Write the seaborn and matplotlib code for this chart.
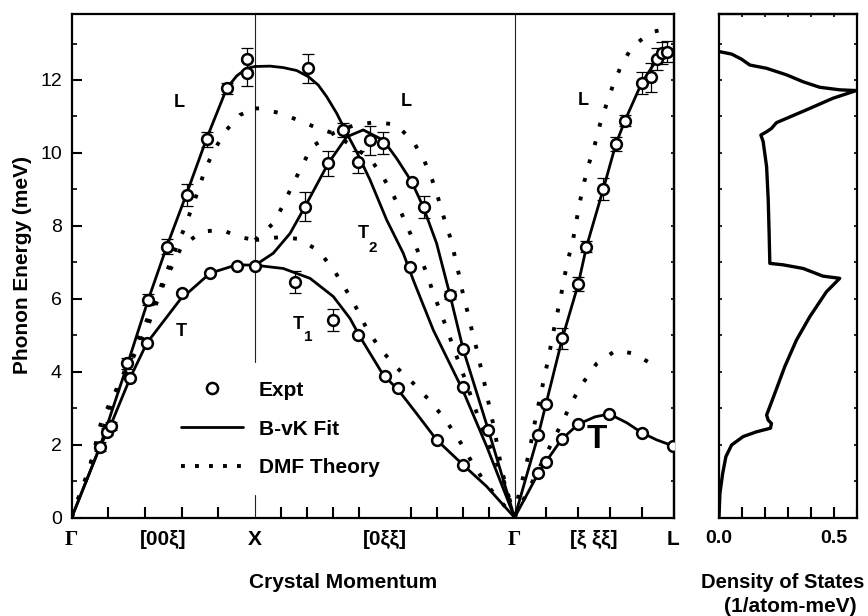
import numpy as np
import pandas as pd
import matplotlib
matplotlib.use("Agg")
import matplotlib.pyplot as plt
from matplotlib.lines import Line2D
import seaborn as sns

# ---------------- path geometry (units of 2*pi/a) ----------------
G1_POS = 0.0
X_POS = 1.0
G2_POS = 1.0 + np.sqrt(2.0)
L_POS = G2_POS + np.sqrt(3.0) / 2.0

# ---------------- B-vK fit (solid) ----------------
bvk_L_GX_x = [0, 0.154, 0.300, 0.417, 0.518, 0.627, 0.736, 0.845, 0.899, 0.954, 1.0]
bvk_L_GX_y = [0, 1.94, 4.14, 5.97, 7.43, 8.89, 10.40, 11.77, 12.11, 12.32, 12.37]
bvk_T_GX_x = [0, 0.154, 0.209, 0.318, 0.409, 0.590, 0.754, 0.899, 1.0]
bvk_T_GX_y = [0, 1.94, 2.49, 3.82, 4.78, 5.97, 6.70, 6.93, 6.92]

bvk_A_XG_x = [1.0, 1.081, 1.153, 1.226, 1.290, 1.344, 1.390, 1.444, 1.499, 1.553, 1.626, 1.717, 1.807, 1.862, 1.971, 2.131, 2.262, 2.414]
bvk_A_XG_y = [12.37, 12.38, 12.34, 12.26, 12.09, 11.86, 11.54, 11.09, 10.54, 10.03, 9.26, 8.16, 7.25, 6.51, 5.14, 3.50, 1.95, 0]
bvk_B_XG_x = [1.0, 1.099, 1.190, 1.271, 1.398, 1.499, 1.589, 1.698, 1.771, 1.853, 1.916, 1.989, 2.062, 2.134, 2.271, 2.414]
bvk_B_XG_y = [6.92, 7.25, 7.79, 8.52, 9.71, 10.44, 10.63, 10.35, 9.85, 9.21, 8.52, 7.52, 6.10, 4.61, 2.40, 0]
bvk_T1_XG_x = [1.0, 1.153, 1.299, 1.426, 1.517, 1.571, 1.698, 1.780, 1.880, 1.989, 2.134, 2.262, 2.414]
bvk_T1_XG_y = [6.92, 6.83, 6.56, 6.06, 5.46, 4.96, 3.91, 3.50, 2.85, 2.13, 1.44, 0.85, 0]

bvk_L_GL_x = [2.414, 2.543, 2.585, 2.674, 2.761, 2.806, 2.897, 2.966, 3.015, 3.106, 3.188, 3.242, 3.280]
bvk_L_GL_y = [0, 2.26, 3.11, 4.91, 6.40, 7.43, 9.00, 10.24, 10.88, 11.91, 12.55, 12.78, 12.83]
bvk_T_GL_x = [2.414, 2.543, 2.585, 2.670, 2.761, 2.852, 2.930, 3.025, 3.106, 3.188, 3.280]
bvk_T_GL_y = [0, 1.21, 1.53, 2.14, 2.56, 2.76, 2.84, 2.60, 2.33, 2.13, 1.96]

# ---------------- DMF theory (dotted) ----------------
dmf_L_GX_x = [0, 0.036, 0.082, 0.109, 0.136, 0.163, 0.263, 0.354, 0.449, 0.572, 0.614, 0.654, 0.690, 0.726, 0.772, 0.835, 0.917, 1.0]
dmf_L_GX_y = [0, 0.53, 1.08, 1.60, 2.13, 2.66, 3.72, 4.78, 5.86, 7.43, 7.93, 8.48, 8.98, 9.53, 10.03, 10.58, 11.04, 11.22]
dmf_T_GX_x = [0, 0.227, 0.417, 0.499, 0.545, 0.599, 0.708, 0.817, 0.917, 1.0]
dmf_T_GX_y = [0, 3.22, 5.28, 6.38, 6.88, 7.43, 7.84, 7.89, 7.69, 7.61]

dmf_A_XG_x = [1.0, 1.026, 1.135, 1.244, 1.344, 1.426, 1.626, 1.698, 1.757, 1.804, 1.849, 1.893, 1.935, 1.971, 2.011, 2.049, 2.085, 2.125, 2.198, 2.235, 2.325, 2.370, 2.414]
dmf_A_XG_y = [11.22, 11.22, 11.09, 10.88, 10.67, 10.54, 9.85, 9.33, 8.80, 8.27, 7.75, 7.23, 6.70, 6.15, 5.63, 5.12, 4.59, 4.06, 3.01, 2.49, 1.39, 0.80, 0]
dmf_B_XG_x = [1.0, 1.099, 1.153, 1.199, 1.253, 1.308, 1.426, 1.544, 1.653, 1.767, 1.862, 1.920, 1.965, 1.998, 2.029, 2.062, 2.089, 2.112, 2.134, 2.161, 2.185, 2.211, 2.235, 2.258, 2.280, 2.303, 2.322, 2.343, 2.367, 2.414]
dmf_B_XG_y = [7.61, 8.07, 8.57, 9.07, 9.62, 10.17, 10.54, 10.77, 10.84, 10.78, 10.31, 9.81, 9.26, 8.75, 8.22, 7.70, 7.15, 6.63, 6.10, 5.57, 5.05, 4.55, 4.00, 3.50, 2.95, 2.45, 1.90, 1.35, 0.84, 0]
dmf_T1_XG_x = [1.0, 1.135, 1.240, 1.344, 1.426, 1.490, 1.549, 1.604, 1.671, 1.757, 1.862, 1.962, 2.044, 2.113, 2.174, 2.243, 2.316, 2.414]
dmf_T1_XG_y = [7.61, 7.69, 7.64, 7.32, 6.81, 6.29, 5.77, 5.22, 4.70, 4.18, 3.68, 3.15, 2.63, 2.11, 1.58, 1.03, 0.57, 0]

dmf_L_GL_x = [2.414, 2.434, 2.470, 2.494, 2.534, 2.558, 2.579, 2.601, 2.621, 2.643, 2.665, 2.684, 2.706, 2.733, 2.752, 2.770, 2.794, 2.821, 2.852, 2.879, 2.912, 2.948, 2.992, 3.052, 3.155, 3.261]
dmf_L_GL_y = [0, 0.57, 1.30, 1.80, 2.86, 3.41, 3.91, 4.43, 4.98, 5.51, 6.03, 6.56, 7.08, 7.63, 8.16, 8.66, 9.21, 9.73, 10.24, 10.77, 11.29, 11.82, 12.36, 12.89, 13.31, 13.42]
dmf_T_GL_x = [2.414, 2.625, 2.676, 2.725, 2.785, 2.861, 2.968, 3.068, 3.174]
dmf_T_GL_y = [0, 2.13, 2.63, 3.16, 3.68, 4.22, 4.59, 4.49, 4.17]

# ---------------- experiment ----------------
expt_x = [0.154, 0.194, 0.214, 0.300, 0.417, 0.518, 0.627, 0.736, 0.845, 0.954, 0.954,
          0.318, 0.409, 0.599, 0.754, 0.902, 1.0,
          1.290, 1.562, 1.844, 2.131, 1.480,
          1.271, 1.398, 1.626, 1.695, 1.853, 1.920, 2.062, 2.134, 2.271,
          1.217, 1.426, 1.562, 1.707, 1.780, 1.989, 2.134,
          2.543, 2.585, 2.674, 2.761, 2.806, 2.897, 2.966, 3.015, 3.106, 3.155, 3.188, 3.220, 3.246,
          2.543, 2.585, 2.670, 2.761, 2.930, 3.106, 3.275]
expt_y = [1.94, 2.35, 2.51, 4.23, 5.97, 7.43, 8.85, 10.37, 11.77, 12.18, 12.57,
          3.82, 4.78, 6.15, 6.70, 6.91, 6.91,
          12.32, 9.76, 6.88, 3.57, 10.63,
          8.52, 9.71, 10.35, 10.28, 9.21, 8.52, 6.10, 4.61, 2.40,
          6.47, 5.42, 5.01, 3.88, 3.54, 2.13, 1.44,
          2.26, 3.11, 4.91, 6.40, 7.43, 9.00, 10.24, 10.88, 11.91, 12.07, 12.57, 12.73, 12.78,
          1.21, 1.53, 2.14, 2.56, 2.84, 2.33, 1.96]
expt_err = [0.12, 0.10, 0.10, 0.15, 0.15, 0.20, 0.30, 0.20, 0.15, 0.35, 0.30,
            0, 0, 0, 0, 0, 0,
            0.40, 0.30, 0, 0, 0.20,
            0.40, 0.35, 0.40, 0.30, 0, 0.30, 0.10, 0, 0,
            0.30, 0.30, 0, 0, 0, 0, 0,
            0, 0, 0.30, 0.20, 0.15, 0.30, 0.20, 0.15, 0.30, 0.40, 0.30, 0.30, 0.30,
            0, 0, 0, 0, 0, 0, 0]

# ---------------- density of states ----------------
dos_val = [0, 0.004, 0.016, 0.030, 0.055, 0.105, 0.163, 0.224, 0.228, 0.214, 0.207, 0.243, 0.286,
           0.337, 0.395, 0.467, 0.525, 0.452, 0.366, 0.279, 0.221, 0.218, 0.214, 0.207, 0.192,
           0.182, 0.207, 0.228, 0.250, 0.380, 0.496, 0.597, 0.525, 0.438, 0.366, 0.294, 0.207,
           0.134, 0.098, 0.055, 0]
dos_e = [0, 0.66, 1.21, 1.67, 1.99, 2.22, 2.35, 2.45, 2.58, 2.67, 2.81, 3.41, 4.14,
         4.87, 5.51, 6.19, 6.56, 6.62, 6.83, 6.93, 6.97, 7.79, 8.71, 9.62, 10.31,
         10.49, 10.58, 10.67, 10.83, 11.18, 11.50, 11.71, 11.73, 11.80, 11.95, 12.14, 12.32,
         12.41, 12.57, 12.71, 12.78]

# ---------------- labels ----------------
sym_pos = [G1_POS, 0.5, X_POS, X_POS + np.sqrt(2) / 2, G2_POS, G2_POS + np.sqrt(3) / 4, L_POS]
sym_lab = ["Γ", "[00ξ]", "X", "[0ξξ]", "Γ", "[ξ ξξ]", "L"]
ticks_GX = [0.2, 0.4, 0.6, 0.8]
ticks_XG = [X_POS + k * np.sqrt(2) / 10 for k in range(1, 10)]
ticks_GL = [G2_POS + k * np.sqrt(3) / 10 for k in range(1, 6)]
ytick_vals = [0, 2, 4, 6, 8, 10, 12]

# ---------------- style ----------------
sns.set_theme(style="ticks")
plt.rcParams['font.family'] = ['Liberation Sans', 'DejaVu Sans']
plt.rcParams['axes.linewidth'] = 1.6
plt.rcParams['axes.edgecolor'] = 'black'
plt.rcParams['xtick.color'] = 'black'
plt.rcParams['ytick.color'] = 'black'
plt.rcParams['text.color'] = 'black'

fig = plt.figure(figsize=(8.68, 6.16), dpi=100)
ax = fig.add_axes([71.7 / 868, 1 - 517.5 / 616, (673.5 - 71.7) / 868, (517.5 - 14) / 616])
axd = fig.add_axes([719 / 868, 1 - 517.5 / 616, (857 - 719) / 868, (517.5 - 14) / 616])

YMAX = (517.5 - 14) / 36.46

SOLID = dict(color='black', lw=2.0, solid_capstyle='round')
DOT = dict(color='black', lw=2.8, linestyle=(0, (1.0, 3.9)))


def draw(axis, xs, ys, style):
    df = pd.DataFrame({'q': xs, 'E': ys})
    sns.lineplot(data=df, x='q', y='E', sort=False, estimator=None, ax=axis, zorder=3, **style)


for xs, ys in [(bvk_L_GX_x, bvk_L_GX_y), (bvk_T_GX_x, bvk_T_GX_y),
               (bvk_A_XG_x, bvk_A_XG_y), (bvk_B_XG_x, bvk_B_XG_y), (bvk_T1_XG_x, bvk_T1_XG_y),
               (bvk_L_GL_x, bvk_L_GL_y), (bvk_T_GL_x, bvk_T_GL_y)]:
    draw(ax, xs, ys, SOLID)

for xs, ys in [(dmf_L_GX_x, dmf_L_GX_y), (dmf_T_GX_x, dmf_T_GX_y),
               (dmf_A_XG_x, dmf_A_XG_y), (dmf_B_XG_x, dmf_B_XG_y), (dmf_T1_XG_x, dmf_T1_XG_y),
               (dmf_L_GL_x, dmf_L_GL_y), (dmf_T_GL_x, dmf_T_GL_y)]:
    draw(ax, xs, ys, DOT)

ex = np.array(expt_x); ey = np.array(expt_y); ee = np.array(expt_err)
m = ee > 0
ax.errorbar(ex[m], ey[m], yerr=ee[m], fmt='none', ecolor='black', elinewidth=0.9,
            capsize=4.3, capthick=0.9, zorder=4)
sns.scatterplot(x=ex, y=ey, ax=ax, marker='o', s=60, color='white', edgecolor='black',
                linewidth=1.8, zorder=5, legend=False)

# symmetry-point separators (X line interrupted by the legend block)
ax.plot([X_POS, X_POS], [0, 0.62], color='#222222', lw=0.8, zorder=1)
ax.plot([X_POS, X_POS], [4.27, 20], color='#222222', lw=0.8, zorder=1)
ax.axvline(G2_POS, color='#222222', lw=0.8, zorder=1)

ax.set_xlim(G1_POS, L_POS)
ax.set_ylim(0, YMAX)
ax.set_xlabel(""); ax.set_ylabel("")

ax.set_xticks(sym_pos)
ax.set_xticklabels(sym_lab, fontsize=15, fontweight='bold')
for t in ax.get_xticklabels():
    if t.get_text() == "Γ":
        t.set_fontfamily(['Liberation Serif', 'DejaVu Serif'])
ax.set_xticks(ticks_GX + ticks_XG + ticks_GL, minor=True)
ax.tick_params(axis='x', which='major', length=0, pad=9)
ax.tick_params(axis='x', which='minor', direction='in', length=8, width=1.5)
ax.set_yticks(ytick_vals)
ax.set_yticklabels([str(v) for v in ytick_vals], fontsize=14)
ax.set_yticks([1, 3, 5, 7, 9, 11, 13], minor=True)
ax.tick_params(axis='y', which='major', direction='in', length=7, width=1.5, pad=7)
ax.tick_params(axis='y', which='minor', direction='in', length=3.5, width=1.2)
sec = ax.secondary_yaxis('right')
sec.set_yticks(list(range(0, 14)))
sec.set_yticklabels([])
sec.tick_params(direction='in', length=2.5, width=1.2)

# branch labels
lab = dict(fontsize=13, fontweight='bold', ha='center', va='center')
ax.text(0.585, 11.37, "L", **lab)
ax.text(1.822, 11.42, "L", **lab)
ax.text(2.786, 11.45, "L", **lab)
ax.text(0.596, 5.09, "T", **lab)
ax.text(1.233, 5.28, "T", **lab)
ax.text(1.290, 4.95, "1", fontsize=11, fontweight='bold', ha='center', va='center')
ax.text(1.588, 7.78, "T", **lab)
ax.text(1.640, 7.40, "2", fontsize=11, fontweight='bold', ha='center', va='center')
ax.text(2.862, 2.13, "T", fontsize=24, fontweight='bold', ha='center', va='center')

handles = [Line2D([], [], marker='o', ls='none', mfc='white', mec='black', ms=8, mew=1.8),
           Line2D([], [], color='black', lw=2.0),
           Line2D([], [], color='black', lw=2.8, linestyle=(0, (1.0, 2.6)))]
leg = ax.legend(handles, ["Expt", "B-vK Fit", "DMF Theory"], loc='upper left',
                bbox_to_anchor=((162 - 71.7) / 601.8, (517.5 - 362) / 503.5),
                frameon=False, borderpad=0.9, handlelength=3.0, handletextpad=0.75,
                labelspacing=0.95, borderaxespad=0,
                prop={'family': ['Liberation Sans'], 'weight': 'bold', 'size': 15})
leg.set_zorder(6)

fig.text(343 / 868, 1 - 582 / 616, "Crystal Momentum", fontsize=15, fontweight='bold',
         ha='center', va='center')
fig.text(23 / 868, 1 - 265 / 616, "Phonon Energy (meV)", fontsize=15, fontweight='bold',
         ha='center', va='center', rotation=90)

# ---------------- DOS panel ----------------
draw(axd, dos_val, dos_e, dict(color='black', lw=2.4))
axd.set_xlim(0, 0.6)
axd.set_ylim(0, YMAX)
axd.set_xlabel(""); axd.set_ylabel("")
axd.set_xticks([0.0, 0.5])
axd.set_xticklabels(["0.0", "0.5"], fontsize=14, fontweight='bold')
axd.set_xticks([0.1, 0.2, 0.3, 0.4, 0.6], minor=True)
axd.tick_params(axis='x', which='both', direction='in', length=8, width=1.5, pad=9)
axd.set_yticks(list(range(0, 14)))
axd.set_yticklabels([])
axd.tick_params(axis='y', which='major', direction='in', length=2.5, width=1.2,
                left=True, right=True)
secd = axd.secondary_xaxis('top')
secd.set_xticks([0.1, 0.2, 0.3, 0.4, 0.5])
secd.set_xticklabels([])
secd.tick_params(direction='in', length=2.5, width=1.2)
fig.text(783 / 868, 1 - 582 / 616, "Density of States", fontsize=14.5, fontweight='bold',
         ha='center', va='center')
fig.text(790 / 868, 1 - 606 / 616, "(1/atom-meV)", fontsize=15, fontweight='bold',
         ha='center', va='center')

fig.savefig("out.png", dpi=100)
